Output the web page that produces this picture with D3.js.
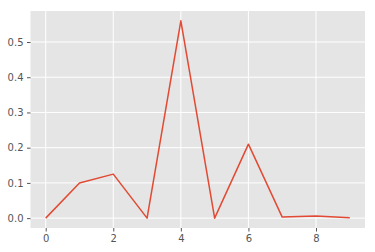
<!DOCTYPE html>
<html>
<head>
<meta charset="utf-8">
<script src="https://cdn.jsdelivr.net/npm/d3@7"></script>
<style>
	body { margin: 0; background: #fff; }
	svg text { font-family: "DejaVu Sans", sans-serif; }
</style>
</head>
<body>
<div id="chart"></div>
<script>
var xValues = [0, 1, 2, 3, 4, 5, 6, 7, 8, 9]
var yValues = [0, 0.1, 0.125, 0, 0.56, 0, 0.21, 0.003, 0.006, 0.001]
var xTicks = [0, 2, 4, 6, 8]
var yTicks = [0, 0.1, 0.2, 0.3, 0.4, 0.5]

var width = 375,
	height = 252
var margin = { left: 30.5, top: 11, right: 10, bottom: 24 }

var svg = d3.select('#chart').append('svg')
	.attr('width', width)
	.attr('height', height)

// matplotlib style 5% margins
var xPad = (d3.max(xValues) - d3.min(xValues)) * 0.05
var yPad = (d3.max(yValues) - d3.min(yValues)) * 0.05

var x = d3.scaleLinear()
	.domain([d3.min(xValues) - xPad, d3.max(xValues) + xPad])
	.range([margin.left, width - margin.right])

var y = d3.scaleLinear()
	.domain([d3.min(yValues) - yPad, d3.max(yValues) + yPad])
	.range([height - margin.bottom, margin.top])

svg.append('rect')
	.attr('x', margin.left)
	.attr('y', margin.top)
	.attr('width', width - margin.left - margin.right)
	.attr('height', height - margin.top - margin.bottom)
	.attr('fill', '#e5e5e5')

// grid
svg.append('g').selectAll('line')
	.data(xTicks)
	.enter().append('line')
	.attr('x1', function (d) { return x(d) })
	.attr('x2', function (d) { return x(d) })
	.attr('y1', margin.top)
	.attr('y2', height - margin.bottom)
	.attr('stroke', '#fff')
	.attr('stroke-width', 1)

svg.append('g').selectAll('line')
	.data(yTicks)
	.enter().append('line')
	.attr('x1', margin.left)
	.attr('x2', width - margin.right)
	.attr('y1', function (d) { return y(d) })
	.attr('y2', function (d) { return y(d) })
	.attr('stroke', '#fff')
	.attr('stroke-width', 1)

var x_axis = d3.axisBottom(x)
	.tickValues(xTicks)
	.tickFormat(d3.format('d'))
	.tickSize(3.5)
	.tickPadding(3.5)

var y_axis = d3.axisLeft(y)
	.tickValues(yTicks)
	.tickFormat(d3.format('.1f'))
	.tickSize(3.5)
	.tickPadding(3.5)

var gx = svg.append('g')
	.attr('transform', 'translate(0,' + (height - margin.bottom) + ')')
	.call(x_axis)
var gy = svg.append('g')
	.attr('transform', 'translate(' + margin.left + ',0)')
	.call(y_axis)

;[gx, gy].forEach(function (g) {
	g.select('.domain').remove()
	g.selectAll('.tick line').attr('stroke', '#555')
	g.selectAll('.tick text')
		.attr('fill', '#555')
		.style('font-size', '10px')
})

var line = d3.line()
	.x(function (d, i) { return x(xValues[i]) })
	.y(function (d) { return y(d) })

svg.append('path')
	.datum(yValues)
	.attr('d', line)
	.attr('fill', 'none')
	.attr('stroke', '#e24a33')
	.attr('stroke-width', 1.5)
	.attr('stroke-linejoin', 'round')
</script>
</body>
</html>
